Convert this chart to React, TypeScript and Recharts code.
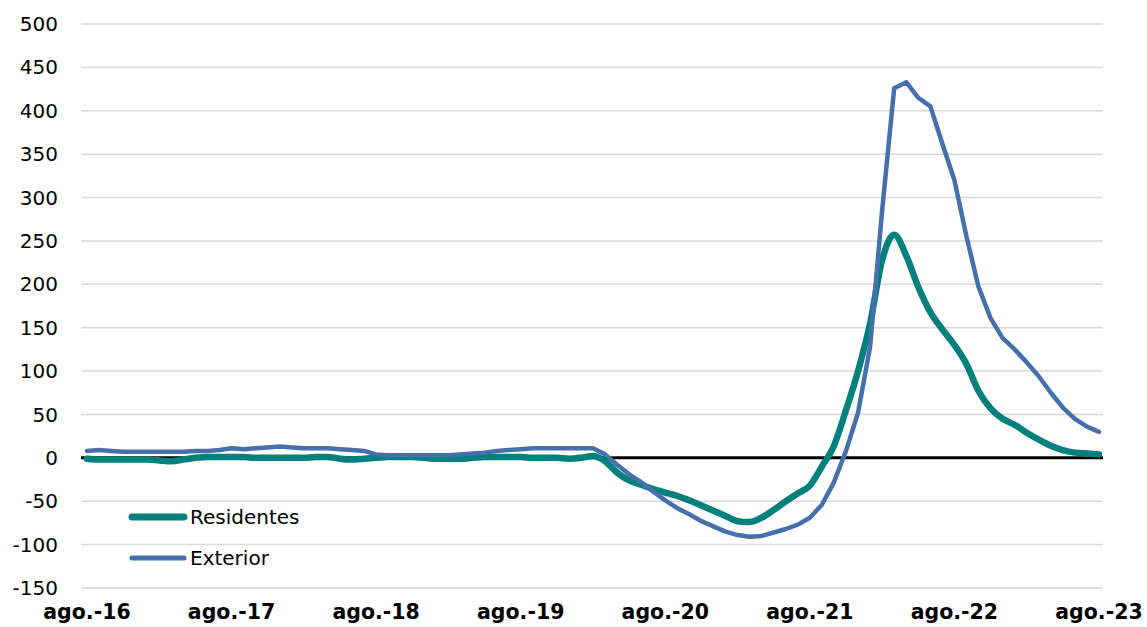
import { CartesianGrid, Line, LineChart, ReferenceLine, XAxis, YAxis } from 'recharts'

const MONTH_NAMES = ['ago.', 'sep.', 'oct.', 'nov.', 'dic.', 'ene.', 'feb.', 'mar.', 'abr.', 'may.', 'jun.', 'jul.']

// monthly, ago.-16 .. ago.-23
const months: string[] = []
for (let i = 0; i <= 84; i++) {
  const yr = 16 + Math.floor((i + 7) / 12)
  months.push(`${MONTH_NAMES[i % 12]}-${yr}`)
}

const residentes = [
  -1, -2, -2, -2, -2, -2, -3, -4, -2, 0, 1, 1,
  1, 1, 0, 0, 0, 0, 0, 1, 1, -1, -2, -1,
  0, 1, 1, 1, 0, -1, -1, -1, 0, 1, 1, 1,
  1, 0, 0, 0, -1, 0, 2, -4, -17, -26, -31, -36,
  -40, -44, -49, -55, -61, -67, -73, -74, -69, -60, -50, -41,
  -32, -10, 14, 55, 100, 155, 228, 257, 233, 197, 168, 148,
  130, 108, 77, 57, 45, 38, 29, 21, 14, 9, 6, 5,
  4,
]

const exterior = [
  8, 9, 8, 7, 7, 7, 7, 7, 7, 8, 8, 9,
  11, 10, 11, 12, 13, 12, 11, 11, 11, 10, 9, 8,
  4, 3, 3, 3, 3, 3, 3, 4, 5, 6, 8, 9,
  10, 11, 11, 11, 11, 11, 11, 4, -8, -19, -28, -39,
  -49, -58, -65, -73, -79, -85, -89, -91, -90, -86, -82, -77,
  -69, -54, -28, 8, 52, 128, 285, 426, 433, 415, 405, 362,
  320, 255, 197, 161, 138, 125, 110, 94, 75, 58, 45, 36,
  30,
]

const xTicks = [0, 12, 24, 36, 48, 60, 72, 84].map((i) => months[i])
const yTicks = [-150, -100, -50, 0, 50, 100, 150, 200, 250, 300, 350, 400, 450, 500]

const TEAL = '#00807C'
const BLUE = '#4570AB'
const FONT = '"DejaVu Sans", Verdana, sans-serif'

const data = months.map((m, i) => ({ month: m, residentes: residentes[i], exterior: exterior[i] }))

const legendItems = [
  { label: 'Residentes', color: TEAL, w: 7 },
  { label: 'Exterior', color: BLUE, w: 5 },
]

export default function App() {
  return (
    <div style={{ position: 'absolute', left: 0, top: 0, width: 1147, height: 627, background: '#fff' }}>
      <LineChart width={1147} height={627} data={data} margin={{ top: 24, right: 44, left: 0, bottom: 0 }}>
        <CartesianGrid vertical={false} stroke="#d9d9d9" strokeWidth={1.5} />
        <XAxis
          dataKey="month"
          ticks={xTicks}
          interval={0}
          axisLine={false}
          tickLine={false}
          tickSize={0}
          tickMargin={16}
          height={39}
          padding={{ left: 6, right: 4 }}
          tick={{ fill: '#000', fontSize: 20.5, fontWeight: 700, fontFamily: FONT }}
        />
        <YAxis
          domain={[-150, 500]}
          ticks={yTicks}
          interval={0}
          width={81}
          axisLine={false}
          tickLine={false}
          tickSize={0}
          tickMargin={23}
          tick={{ fill: '#000', fontSize: 20, fontFamily: FONT }}
        />
        <ReferenceLine y={0} stroke="#000" strokeWidth={3} />
        <Line
          type="monotone"
          dataKey="residentes"
          stroke={TEAL}
          strokeWidth={6.5}
          dot={false}
          strokeLinecap="round"
          isAnimationActive={false}
        />
        <Line
          type="linear"
          dataKey="exterior"
          stroke={BLUE}
          strokeWidth={4.5}
          dot={false}
          strokeLinecap="round"
          strokeLinejoin="round"
          isAnimationActive={false}
        />
      </LineChart>
      <div style={{ position: 'absolute', left: 126, top: 496, fontFamily: FONT, fontSize: 20 }}>
        {legendItems.map((it) => (
          <div key={it.label} style={{ display: 'flex', alignItems: 'center', height: 41 }}>
            <svg width={64} height={12}>
              <line x1={6} y1={6} x2={58} y2={6} stroke={it.color} strokeWidth={it.w} strokeLinecap="round" />
            </svg>
            <span style={{ color: '#000' }}>{it.label}</span>
          </div>
        ))}
      </div>
    </div>
  )
}
